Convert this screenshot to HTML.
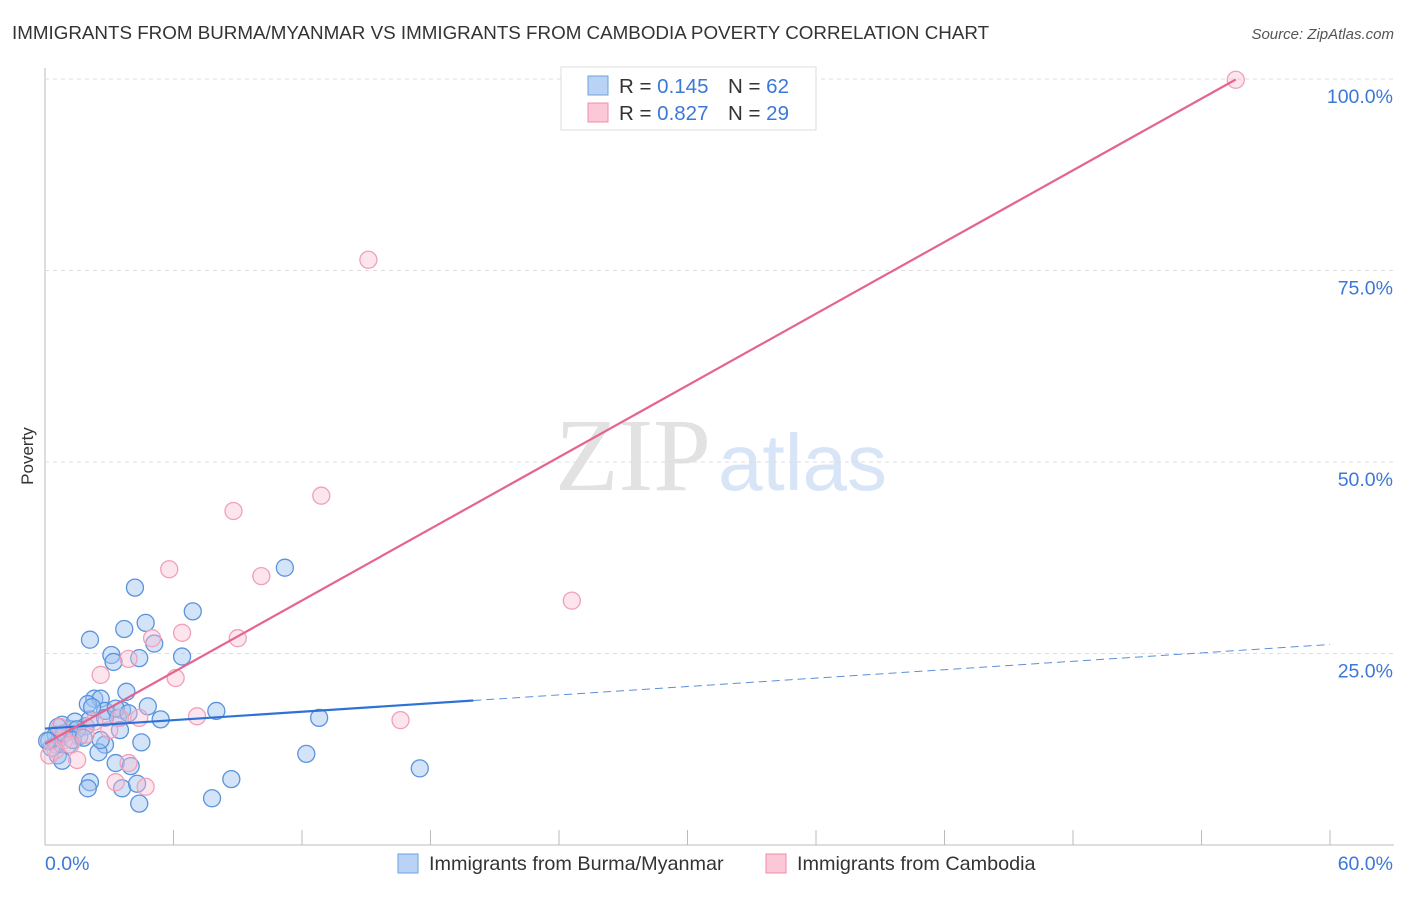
<!DOCTYPE html>
<html><head><meta charset="utf-8"><style>
body{margin:0;background:#fff;font-family:"Liberation Sans",sans-serif;}
svg text{font-family:"Liberation Sans",sans-serif;}
</style></head><body>
<svg id="chart" width="1406" height="892" xmlns="http://www.w3.org/2000/svg">
<text x="12" y="39" font-size="18.8" fill="#333">IMMIGRANTS FROM BURMA/MYANMAR VS IMMIGRANTS FROM CAMBODIA POVERTY CORRELATION CHART</text>
<text x="1394" y="39" font-size="15" fill="#555" font-style="italic" text-anchor="end">Source: ZipAtlas.com</text>
<text x="33" y="456" font-size="17" fill="#333" transform="rotate(-90 33 456)" text-anchor="middle">Poverty</text>
<text x="555" y="490" font-size="104" fill="#e2e2e2" font-family="Liberation Serif" style="font-family:'Liberation Serif',serif">ZIP</text>
<text x="718" y="490" font-size="80" fill="#d8e5f7">atlas</text>
<g id="grid"></g><g id="marks"></g>
<g>
<rect x="561" y="67" width="255" height="63" fill="#fff" stroke="#ddd"/>
<rect x="588" y="76" width="20" height="19" fill="#b8d3f5" stroke="#6fa0e0"/>
<rect x="588" y="103" width="20" height="19" fill="#fbc8d8" stroke="#f08cab"/>
<text x="619" y="93" font-size="20.5" fill="#333">R = <tspan fill="#3b78d8">0.145</tspan><tspan x="728">N = </tspan><tspan fill="#3b78d8">62</tspan></text>
<text x="619" y="120" font-size="20.5" fill="#333">R = <tspan fill="#3b78d8">0.827</tspan><tspan x="728">N = </tspan><tspan fill="#3b78d8">29</tspan></text>
</g>
<g>
<rect x="398" y="854" width="20" height="19" fill="#b8d3f5" stroke="#6fa0e0"/>
<text x="429" y="870" font-size="19.8" fill="#333">Immigrants from Burma/Myanmar</text>
<rect x="766" y="854" width="20" height="19" fill="#fbc8d8" stroke="#f08cab"/>
<text x="797" y="870" font-size="19.8" fill="#333">Immigrants from Cambodia</text>
</g>
</svg>
<script>
const yTicks=[25,50,75,100];
const yTickLabels=["25.0%","50.0%","75.0%","100.0%"];
const xTickLabels=["0.0%","60.0%"];
const burmaX=[0.5,0.7,0.8,0.6,0.3,1.2,1.4,1.6,1.9,2.1,2.3,2.6,2.8,2.0,2.1,3.1,3.2,3.7,4.2,4.7,5.1,4.4,3.8,3.6,3.4,2.8,2.5,3.5,4.5,4.8,5.4,6.4,6.9,8.0,11.2,12.8,12.2,17.5,8.7,7.8,4.4,3.6,2.1,2.0,4.3,3.3,4.0,0.5,0.8,0.2,1.1,1.5,2.8,0.9,1.3,1.8,0.1,2.6,2.2,3.3,3.9,0.6];
const burmaY=[13.1,14.0,15.7,11.7,12.7,15.1,16.1,14.2,15.5,16.4,19.1,19.1,17.5,18.4,26.8,24.8,23.9,28.2,33.6,29.0,26.3,24.4,20.0,17.6,16.6,13.1,12.1,15.0,13.4,18.1,16.4,24.6,30.5,17.5,36.2,16.6,11.9,10.0,8.6,6.1,5.4,7.4,8.2,7.4,8.0,10.7,10.3,14.4,11.0,13.6,13.1,15.1,16.6,14.6,13.7,14.0,13.6,13.7,18.0,17.8,17.2,15.4];
const cambX=[55.6,15.1,12.9,8.8,5.8,10.1,24.6,5.0,6.4,9.0,3.9,6.1,2.6,7.1,16.6,3.5,3.0,1.9,0.9,0.5,1.5,3.3,3.9,4.7,2.3,0.7,1.2,0.2,4.4];
const cambY=[99.9,76.4,45.6,43.6,36.0,35.1,31.9,27.0,27.7,27.0,24.3,21.8,22.2,16.8,16.3,16.6,15.0,14.4,13.7,12.4,11.1,8.2,10.7,7.6,16.1,15.4,13.1,11.7,16.6];
const burmaFit={a:15.2,b:0.183,solidTo:20,dashTo:60};
const cambFit={a:13.2,b:1.56,to:55.6};
const X=v=>45+v/60*1285, Y=v=>845-v/100*766;
const NS="http://www.w3.org/2000/svg";
const grid=document.getElementById('grid'), marks=document.getElementById('marks');
function mk(tag,attrs,parent){const e=document.createElementNS(NS,tag);for(const k in attrs)e.setAttribute(k,attrs[k]);parent.appendChild(e);return e;}
let ax=mk('line',{x1:45,y1:68,x2:45,y2:845,stroke:'#bbb'},grid);


let bx=mk('line',{x1:45,y1:845,x2:1394,y2:845,stroke:'#bbb'},grid);


for(let i=1;i<=10;i++){const t=mk('line',{x1:45+i*128.5,y1:830,x2:45+i*128.5,y2:845,stroke:'#bbb'},grid);

}
yTicks.forEach((v,i)=>{const g=mk('line',{x1:45,y1:Y(v),x2:1394,y2:Y(v),stroke:'#ddd','stroke-dasharray':'4,4'},grid);


const t=mk('text',{x:1393,y:Y(v)+24,'font-size':19.5,fill:'#3b78d8','text-anchor':'end'},grid);t.textContent=yTickLabels[i];

});
xTickLabels.forEach((l,i)=>{const t=mk('text',{x:i?1393:45,y:870,'font-size':19.5,fill:'#3b78d8','text-anchor':i?'end':'start'},grid);t.textContent=l;

});
burmaX.forEach((x,i)=>{const c=mk('circle',{cx:X(x),cy:Y(burmaY[i]),r:8.5,fill:'rgba(160,195,240,0.45)',stroke:'#5b93dd','stroke-width':1.3},marks);

});
cambX.forEach((x,i)=>{const c=mk('circle',{cx:X(x),cy:Y(cambY[i]),r:8.5,fill:'rgba(250,190,210,0.4)',stroke:'#f0a0bb','stroke-width':1.3},marks);

});
let l1=mk('line',{x1:X(0),y1:Y(burmaFit.a),x2:X(burmaFit.solidTo),y2:Y(burmaFit.a+burmaFit.b*burmaFit.solidTo),stroke:'#2f72d6','stroke-width':2.2},marks);


let l2=mk('line',{x1:X(burmaFit.solidTo),y1:Y(burmaFit.a+burmaFit.b*burmaFit.solidTo),x2:X(burmaFit.dashTo),y2:Y(burmaFit.a+burmaFit.b*burmaFit.dashTo),stroke:'#5b8fd8','stroke-width':1,'stroke-dasharray':'8,5'},marks);


let l3=mk('line',{x1:X(0),y1:Y(cambFit.a),x2:X(cambFit.to),y2:Y(cambFit.a+cambFit.b*cambFit.to),stroke:'#e5648e','stroke-width':2.2},marks);


</script>
</body></html>
